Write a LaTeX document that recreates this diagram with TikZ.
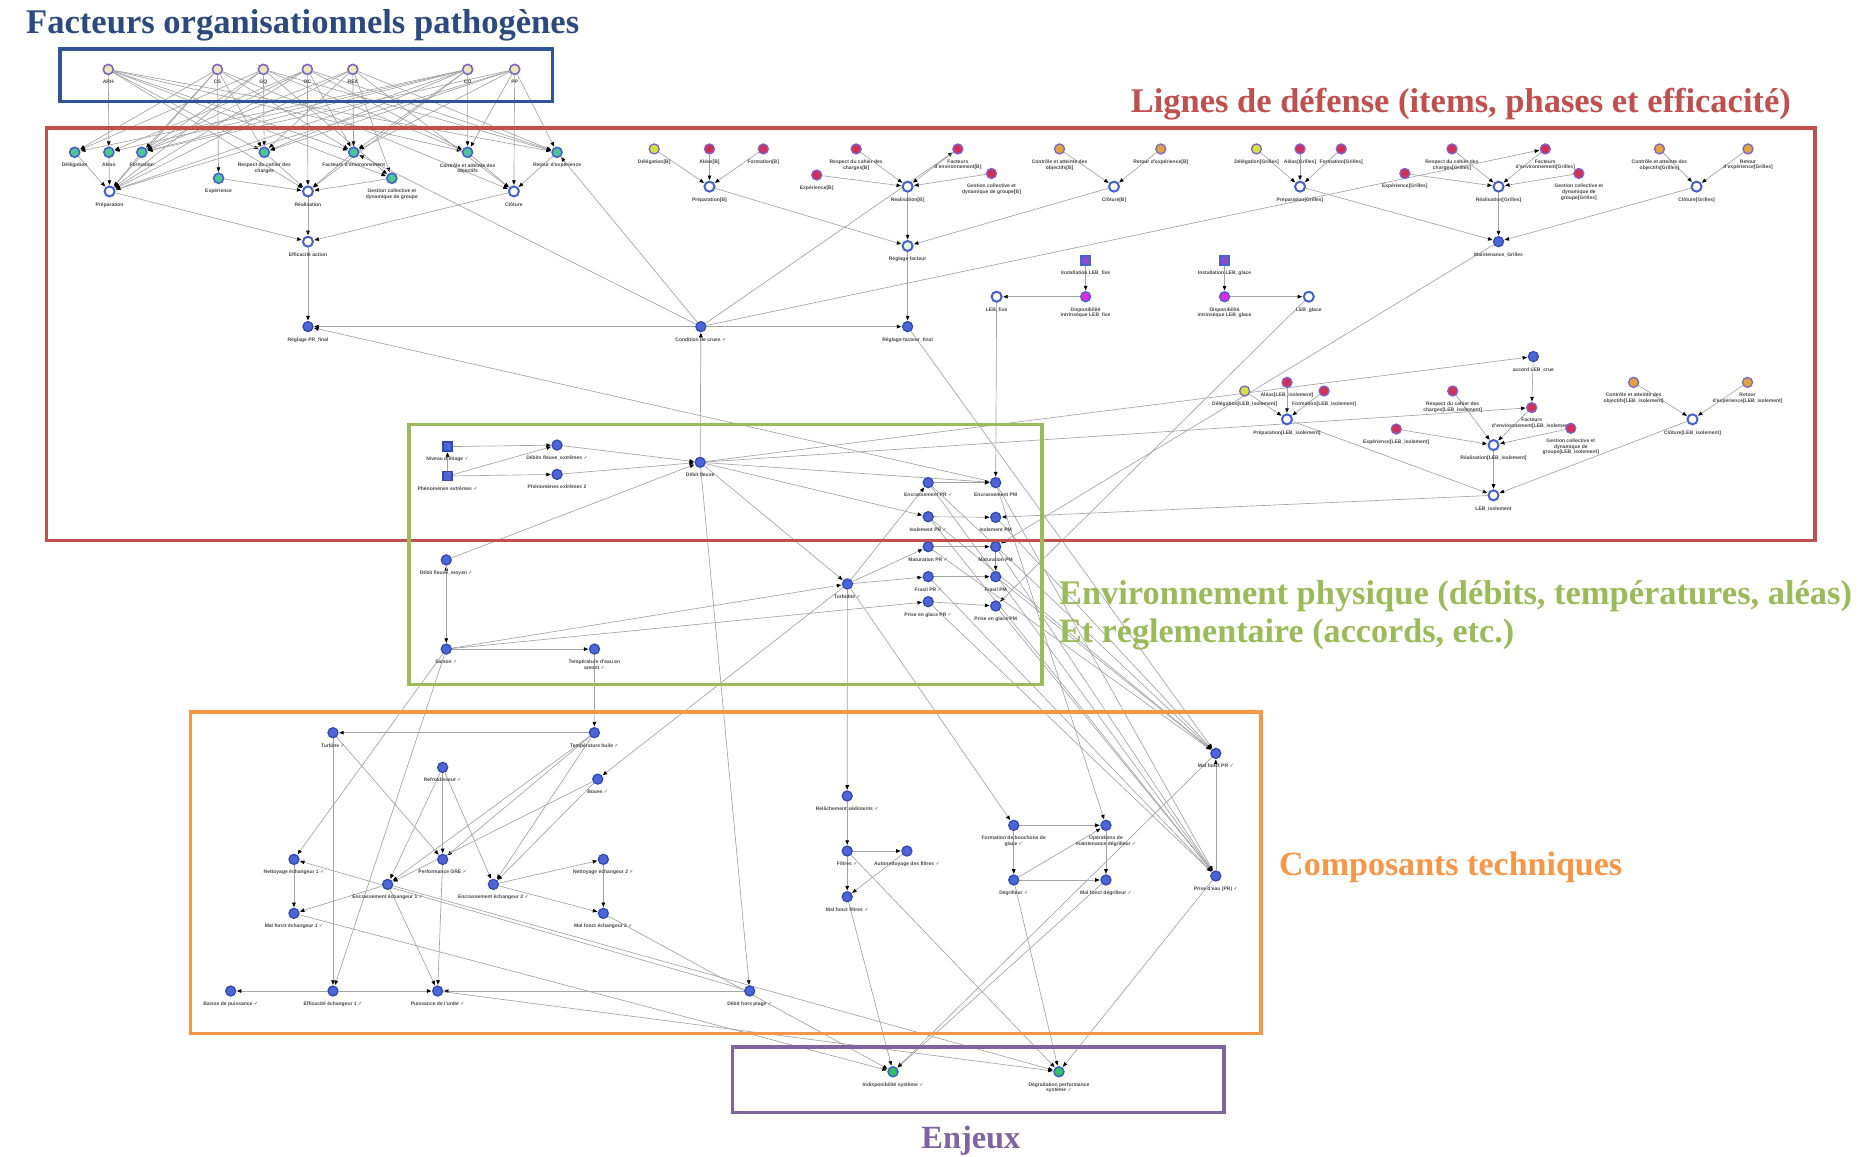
\documentclass[tikz,border=0pt]{standalone}
\usepackage{fontspec}
\setmainfont{Liberation Sans}
\newfontfamily\ttlfont{Liberation Serif}
\newfontfamily\djv{DejaVu Sans}
\usetikzlibrary{arrows.meta}
\newcommand{\ck}{\ {\djv\char"2713}}
\definecolor{cBlue}{HTML}{2F5597}
\definecolor{cBlueT}{HTML}{2B4A7E}
\definecolor{cRed}{HTML}{C0504D}
\definecolor{cGreen}{HTML}{9BBB59}
\definecolor{cOrange}{HTML}{F79646}
\definecolor{cPurple}{HTML}{8064A2}
\definecolor{ring}{HTML}{4660CC}
\definecolor{bfill}{HTML}{4C66D6}
\definecolor{bdark}{HTML}{3448B4}
\definecolor{fopring}{HTML}{7A66C8}
\definecolor{fopfill}{HTML}{EEE6B4}
\definecolor{tealfill}{HTML}{4CC896}
\definecolor{redfill}{HTML}{D22E58}
\definecolor{ylfill}{HTML}{D6E23A}
\definecolor{ogfill}{HTML}{E2A23C}
\definecolor{mgfill}{HTML}{E02ADE}
\definecolor{sqfill}{HTML}{8A4CCC}
\definecolor{gnfill}{HTML}{2EC45E}
\pgfdeclarelayer{bg}
\pgfdeclarelayer{fg}
\pgfsetlayers{bg,main,fg}
\tikzset{
  nd/.style={circle, minimum size=10pt, inner sep=0pt},
  fop/.style={nd, draw=fopring, fill=fopfill, line width=1.6pt},
  tl/.style={nd, draw=ring, fill=tealfill, line width=1.6pt},
  ph/.style={nd, draw=ring, fill=white, line width=2pt},
  phg/.style={nd, draw=ring, fill=green!12, line width=2pt},
  bl/.style={nd, draw=bdark, fill=bfill, line width=1.3pt},
  rd/.style={nd, draw=fopring, fill=redfill, line width=1.3pt},
  yl/.style={nd, draw=fopring, fill=ylfill, line width=1.3pt},
  og/.style={nd, draw=fopring, fill=ogfill, line width=1.3pt},
  mg/.style={nd, draw=ring, fill=mgfill, line width=1.3pt},
  sqp/.style={rectangle, minimum size=9pt, inner sep=0pt, draw=ring, fill=sqfill, line width=1.5pt},
  sqb/.style={rectangle, minimum size=9pt, inner sep=0pt, draw=bdark, fill=bfill, line width=1.5pt},
  gn/.style={nd, draw=ring, fill=gnfill, line width=1.5pt},
  lb/.style={font=\fontsize{5}{5.6}\selectfont\bfseries, text=black!72, align=center, inner sep=0pt, label distance=5pt},
  ar/.style={draw=black!36, line width=0.65pt, -{Triangle[length=4.5pt,width=3.6pt,color=black]}, shorten >=0.6pt},
  bx/.style={line width=3.4pt},
  ttl/.style={inner sep=0pt, font=\ttlfont\bfseries}
}
\newcommand{\N}[5]{\node[#1,label={[lb]below:{#5}}] (#2) at (#3,#4) {};}
\begin{document}
\begin{tikzpicture}[x=1.1964pt,y=-1.1964pt]
\begin{pgfonlayer}{bg}
\fill[white] (0,0) rectangle (1568,967);
\end{pgfonlayer}
\useasboundingbox (0,0) rectangle (1568,967);

% ---------- FOP ----------
\N{fop}{f1}{90.5}{58}{ARH}
\N{fop}{f2}{181.7}{58}{CS}
\N{fop}{f3}{220.1}{58}{GQ}
\N{fop}{f4}{256.9}{58}{OC}
\N{fop}{f5}{294.9}{58}{REX}
\N{fop}{f6}{390.9}{58}{CO}
\N{fop}{f7}{430.2}{58}{PP}

% ---------- items (global) ----------
\N{tl}{del}{62.4}{127.3}{Délégation}
\N{tl}{ale}{91.0}{127.3}{Aléas}
\N{tl}{for}{118.5}{127.3}{Formation}
\N{tl}{res}{220.9}{127.3}{Respect du cahier des\\charges}
\N{tl}{fac}{295.6}{127.3}{Facteurs d'environnement}
\N{tl}{con}{390.8}{127.3}{Contrôle et atteinte des\\objectifs}
\N{tl}{ret}{465.6}{127.3}{Retour d'expérience}
\N{tl}{exp}{182.7}{149}{Expérience}
\N{tl}{ges}{327.5}{149}{Gestion collective et\\dynamique de groupe}
\N{ph}{pre}{91.6}{160}{Préparation}
\N{ph}{rea}{257.4}{160}{Réalisation}
\N{ph}{clo}{429.5}{160}{Clôture}
\N{ph}{eff}{257.4}{202}{Efficacité action}
\N{bl}{rpf}{257.4}{273}{Réglage PR\_final}

% ---------- [B] ----------
\N{yl}{bdel}{546.8}{124.5}{Délégation[B]}
\N{rd}{bale}{593}{124.5}{Aléas[B]}
\N{rd}{bfor}{638}{124.5}{Formation[B]}
\N{rd}{bres}{715.6}{124.5}{Respect du cahier des\\charges[B]}
\N{rd}{bfac}{800.6}{124.5}{Facteurs\\d'environnement[B]}
\N{rd}{bexp}{682.6}{146.3}{Expérience[B]}
\N{rd}{bges}{828.7}{145}{Gestion collective et\\dynamique de groupe[B]}
\N{og}{bcon}{885.6}{124.5}{Contrôle et atteinte des\\objectifs[B]}
\N{og}{bret}{970.2}{124.5}{Retour d'expérience[B]}
\N{ph}{bpre}{593}{156}{Préparation[B]}
\N{ph}{brea}{758.6}{156}{Réalisation[B]}
\N{ph}{bclo}{931.1}{156}{Clôture[B]}
\N{phg}{rf}{758.6}{205.6}{Réglage facteur}
\N{bl}{cdc}{585.8}{273}{Condition de crues\ck}
\N{bl}{rff}{758.6}{273}{Réglage facteur\_final}

% ---------- LEB ----------
\N{sqp}{ilf}{907.4}{217.9}{Installation LEB\_fixe}
\N{mg}{dlf}{907.4}{248}{Disponibilité\\intrinsèque LEB\_fixe}
\N{ph}{lf}{833}{248}{LEB\_fixe}
\N{sqp}{ilg}{1023.5}{217.9}{Installation LEB\_glace}
\N{mg}{dlg}{1023.5}{248}{Disponibilité\\intrinsèque LEB\_glace}
\N{ph}{lg}{1093.9}{248}{LEB\_glace}

% ---------- [Grilles] ----------
\N{yl}{gdel}{1050.2}{124.5}{Délégation[Grilles]}
\N{rd}{gale}{1086.6}{124.5}{Aléas[Grilles]}
\N{rd}{gfor}{1121}{124.5}{Formation[Grilles]}
\N{rd}{gres}{1213.6}{124.5}{Respect du cahier des\\charges[Grilles]}
\N{rd}{gfac}{1291.6}{124.5}{Facteurs\\d'environnement[Grilles]}
\N{rd}{gexp}{1174.2}{145}{Expérience[Grilles]}
\N{rd}{gges}{1319.6}{145}{Gestion collective et\\dynamique de\\groupe[Grilles]}
\N{og}{gcon}{1387}{124.5}{Contrôle et atteinte des\\objectifs[Grilles]}
\N{og}{gret}{1461}{124.5}{Retour\\d'expérience[Grilles]}
\N{ph}{gpre}{1086.6}{156}{Préparation[Grilles]}
\N{ph}{grea}{1252.5}{156}{Réalisation[Grilles]}
\N{ph}{gclo}{1418}{156}{Clôture[Grilles]}
\N{bl}{mgr}{1252.5}{202}{Maintenance\_Grilles}

% ---------- [LEB_isolement] ----------
\N{bl}{acc}{1281.6}{298}{accord LEB\_crue}
\N{yl}{ldel}{1040.3}{326.8}{Délégation[LEB\_isolement]}
\N{rd}{lale}{1075.7}{319.6}{Aléas[LEB\_isolement]}
\N{rd}{lfor}{1106.7}{326.8}{Formation[LEB\_isolement]}
\N{rd}{lres}{1214.2}{326.8}{Respect du cahier des\\charges[LEB\_isolement]}
\N{rd}{lfac}{1280.2}{340.7}{Facteurs\\d'environnement[LEB\_isolement]}
\N{rd}{lexp}{1167}{358.6}{Expérience[LEB\_isolement]}
\N{rd}{lges}{1312.9}{358}{Gestion collective et\\dynamique de\\groupe[LEB\_isolement]}
\N{og}{lcon}{1365.4}{319.6}{Contrôle et atteinte des\\objectifs[LEB\_isolement]}
\N{og}{lret}{1460.6}{319.6}{Retour\\d'expérience[LEB\_isolement]}
\N{ph}{lpre}{1075.7}{350.5}{Préparation[LEB\_isolement]}
\N{ph}{lrea}{1248.3}{372}{Réalisation[LEB\_isolement]}
\N{ph}{lclo}{1414.6}{350.5}{Clôture[LEB\_isolement]}
\N{ph}{lis}{1248.3}{414}{LEB\_isolement}

% ---------- environnement ----------
\N{sqb}{net}{374.1}{373.3}{Niveau d'étiage\ck}
\N{sqb}{phe}{374.1}{397.9}{Phénomènes extrêmes\ck}
\N{bl}{dfe}{465.6}{372}{Débits fleuve\_extrêmes\ck}
\N{bl}{phe2}{465.6}{396.5}{Phénomènes extrêmes 2}
\N{bl}{df}{585.2}{386.4}{Débit fleuve}
\N{bl}{dfm}{373}{468}{Débit fleuve\_moyen\ck}
\N{bl}{sai}{373}{542.5}{Saison\ck}
\N{bl}{tea}{496.9}{542.5}{Température d'eau en\\amont\ck}
\N{bl}{tur}{708.3}{488.1}{Turbidité\ck}
\N{bl}{enr}{775.8}{403.4}{Encrassement PR\ck}
\N{bl}{isr}{775.8}{431.9}{Isolement PR\ck}
\N{bl}{mar}{775.8}{456.9}{Maturation PR\ck}
\N{bl}{frr}{775.8}{482}{Frasil PR\ck}
\N{bl}{pgr}{775.8}{502.9}{Prise en glace PR\ck}
\N{bl}{enm}{832.2}{403.4}{Encrassement PM}
\N{bl}{ism}{832.2}{432.4}{Isolement PM}
\N{bl}{mam}{832.2}{456.9}{Maturation PM}
\N{bl}{frm}{832.2}{482}{Frasil PM}
\N{bl}{pgm}{832.2}{506.5}{Prise en glace PM}

% ---------- composants ----------
\N{bl}{tb}{278.3}{612.4}{Turbine\ck}
\N{bl}{th}{496.8}{612.4}{Température huile\ck}
\N{bl}{rfr}{370}{641.4}{Refroidisseur\ck}
\N{bl}{bou}{499.6}{651.2}{Boues\ck}
\N{bl}{ne1}{245.7}{718.3}{Nettoyage échangeur 1\ck}
\N{bl}{pg}{370}{718.3}{Performance GRE\ck}
\N{bl}{ne2}{504.3}{718.3}{Nettoyage échangeur 2\ck}
\N{bl}{en1}{324}{739.2}{Encrassement échangeur 1\ck}
\N{bl}{en2}{412.4}{739.2}{Encrassement échangeur 2\ck}
\N{bl}{mf1}{245.7}{763.4}{Mal fonct échangeur 1\ck}
\N{bl}{mf2}{504.3}{763.4}{Mal fonct échangeur 2\ck}
\N{bl}{bp}{192.8}{828.3}{Baisse de puissance\ck}
\N{bl}{ee1}{278.3}{828.3}{Efficacité échangeur 1\ck}
\N{bl}{pu}{365.8}{828.3}{Puissance de l'unité\ck}
\N{bl}{dhp}{626.6}{828.3}{Débit hors plage\ck}
\N{bl}{rs}{708.1}{665.3}{Relâchement sédiments\ck}
\N{bl}{fi}{708.1}{711.3}{Filtres\ck}
\N{bl}{an}{758}{711.3}{Autonettoyage des filtres\ck}
\N{bl}{mff}{708.1}{749.5}{Mal fonct filtres\ck}
\N{bl}{fb}{847.3}{689.8}{Formation de bouchons de\\glace\ck}
\N{bl}{om}{924.4}{689.8}{Opérations de\\maintenance dégrilleur\ck}
\N{bl}{dg}{847.3}{735.5}{Dégrilleur\ck}
\N{bl}{mfd}{924.4}{735.5}{Mal fonct dégrilleur\ck}
\N{bl}{mpr}{1016.2}{629.7}{Mal fonct PR\ck}
\N{bl}{pe}{1016.2}{732.2}{Prise d'eau (PR)\ck}

% ---------- enjeux ----------
\N{gn}{ind}{746.4}{895.8}{Indisponibilité système\ck}
\N{gn}{deg}{885.1}{895.8}{Dégradation performance\\système\ck}

% ---------- edges ----------
\begin{pgfonlayer}{bg}
\foreach \a/\b in {
 f1/ale,f1/res,f1/fac,f1/ges,f1/con,f1/ret,f1/rea,
 f2/exp,f2/del,f2/for,f2/pre,f2/res,f2/fac,f2/clo,
 f3/del,f3/for,f3/pre,f3/res,f3/ges,f3/con,f3/ret,
 f4/rea,f4/ale,f4/for,f4/fac,f4/con,f4/ret,f4/pre,
 f5/pre,f5/for,f5/res,f5/fac,f5/ges,f5/clo,f5/ret,
 f6/del,f6/ale,f6/for,f6/pre,f6/res,f6/fac,f6/con,f6/rea,
 f7/clo,f7/res,f7/for,f7/pre,f7/fac,f7/con,f7/ret,
 del/pre,ale/pre,for/pre,res/rea,exp/rea,fac/rea,ges/rea,con/clo,ret/clo,
 pre/eff,rea/eff,clo/eff,eff/rpf,
 cdc/rpf,cdc/rff,rf/rff,cdc/fac,cdc/ret,cdc/bfac,cdc/gfac,
 bdel/bpre,bale/bpre,bfor/bpre,bres/brea,bexp/brea,bges/brea,bfac/brea,bcon/bclo,bret/bclo,
 bpre/rf,brea/rf,bclo/rf,
 gdel/gpre,gale/gpre,gfor/gpre,gres/grea,gexp/grea,gges/grea,gfac/grea,gcon/gclo,gret/gclo,
 gpre/mgr,grea/mgr,gclo/mgr,
 ilf/dlf,dlf/lf,ilg/dlg,dlg/lg,lf/enm,lg/pgm,mgr/mam,
 ldel/lpre,lale/lpre,lfor/lpre,lres/lrea,lexp/lrea,lges/lrea,lfac/lrea,lcon/lclo,lret/lclo,
 lpre/lis,lrea/lis,lclo/lis,acc/lfac,df/acc,df/lfac,lis/ism,enm/rpf,
 phe/net,net/dfe,phe/phe2,phe/dfe,dfe/df,phe2/df,dfm/df,df/cdc,sai/dfm,dfm/sai,
 df/isr,df/tur,df/dhp,df/enm,
 sai/tea,sai/tur,sai/pgr,sai/ne1,sai/ee1,tea/th,
 tur/rs,tur/enr,tur/mar,tur/frr,tur/fb,tur/bou,
 enr/enm,isr/ism,mar/mam,frr/frm,pgr/pgm,mam/frm,
 enr/mpr,isr/mpr,mar/mpr,ism/mpr,frm/mpr,
 frr/pe,pgr/pe,enm/pe,mam/pe,pgm/pe,enr/pe,isr/pe,
 enm/om,rff/mpr,pe/mpr,mpr/ind,pe/deg,
 fb/om,fb/dg,dg/om,dg/mfd,om/mfd,dg/deg,mfd/ind,
 rs/fi,fi/an,fi/mff,an/mff,fi/deg,mff/ind,
 th/tb,tb/ee1,tb/pg,rfr/pg,rfr/en1,rfr/en2,th/pg,th/en1,th/en2,bou/en1,bou/en2,
 en1/mf1,en1/pu,en1/deg,ne1/mf1,en2/ne2,en2/mf2,ne2/mf2,pg/pu,
 ee1/bp,ee1/pu,dhp/pu,pu/deg,mf1/ind,mf2/ind,dhp/ne1}
 \draw[ar] (\a) -- (\b);
\end{pgfonlayer}

% ---------- boxes & titles ----------
\begin{pgfonlayer}{fg}
\draw[bx, cBlue] (50,41) rectangle (462,85);
\draw[bx, cRed] (39,107) rectangle (1517,452);
\draw[bx, cGreen] (342,355) rectangle (871,572);
\draw[bx, cOrange] (159,595) rectangle (1054,864);
\draw[bx, cPurple] (612,875) rectangle (1023,930);
\node[ttl, text=cBlueT] (t1) at (253,21) {\resizebox{553pt}{!}{Facteurs organisationnels pathogènes}};
\node[ttl, text=cRed] (t2) at (1221,87) {\resizebox{660pt}{!}{Lignes de défense (items, phases et efficacité)}};
\node[ttl, text=cGreen, anchor=west] (t3) at (885,498) {\resizebox{793pt}{!}{Environnement physique (débits, températures, aléas)}};
\node[ttl, text=cGreen, anchor=west] (t4) at (885,530) {\resizebox{455pt}{!}{Et réglementaire (accords, etc.)}};
\node[ttl, text=cOrange, anchor=west] (t5) at (1069,725) {\resizebox{343pt}{!}{Composants techniques}};
\node[ttl, text=cPurple] (t6) at (811.5,953) {\resizebox{99pt}{!}{Enjeux}};
\end{pgfonlayer}
\end{tikzpicture}
\end{document}
